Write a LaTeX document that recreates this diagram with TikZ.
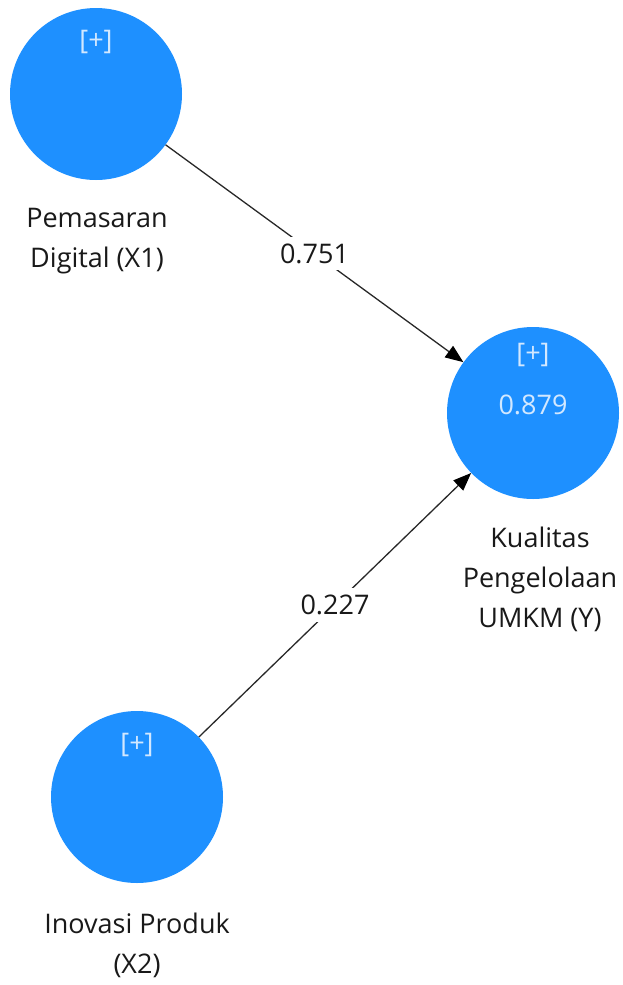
\documentclass[tikz,border=0pt]{standalone}
\usepackage{fontspec}
\setmainfont{Open Sans}
\usepackage{tikz}
\usetikzlibrary{arrows.meta}

\definecolor{lvblue}{RGB}{30,144,255}
\definecolor{lvtext}{RGB}{210,232,255}
\definecolor{pathgray}{RGB}{40,40,40}

\begin{document}
\begin{tikzpicture}[x=1pt,y=-1pt,
    latent/.style={circle,fill=lvblue,minimum size=172pt,inner sep=0pt},
    inner/.style={text=lvtext,font=\fontsize{27}{30}\selectfont},
    caption/.style={align=center,font=\fontsize{27}{40}\selectfont,text=black!90},
    path/.style={draw=pathgray,line width=1.3pt,-{Triangle[length=18pt,width=14pt,color=black]}},
    coef/.style={fill=white,inner sep=7pt,font=\fontsize{27}{30}\selectfont,text=black!90}]
    \useasboundingbox (0,0) rectangle (623,985);

    % Latent variables
    \node[latent] (x1) at (96,94) {};
    \node[latent] (y) at (533,413) {};
    \node[latent] (x2) at (137,797) {};

    % Expand markers and R-square
    \node[inner] (x1plus) at (96,42) {[+]};
    \node[inner] (yplus) at (533,355) {[+]};
    \node[inner] (yr2) at (533,405) {0.879};
    \node[inner] (x2plus) at (137,745) {[+]};

    % Label the constructs
    \node[caption] (x1lab) at (97,241) {Pemasaran\\Digital (X1)};
    \node[caption] (ylab) at (540,579) {Kualitas\\Pengelolaan\\UMKM (Y)};
    \node[caption] (x2lab) at (137,945) {Inovasi Produk\\(X2)};

    % Path coefficients
    \draw[path] (x1) -- node[coef] (c1) {0.751} (y);
    \draw[path] (x2) -- node[coef] (c2) {0.227} (y);
\end{tikzpicture}
\end{document}
